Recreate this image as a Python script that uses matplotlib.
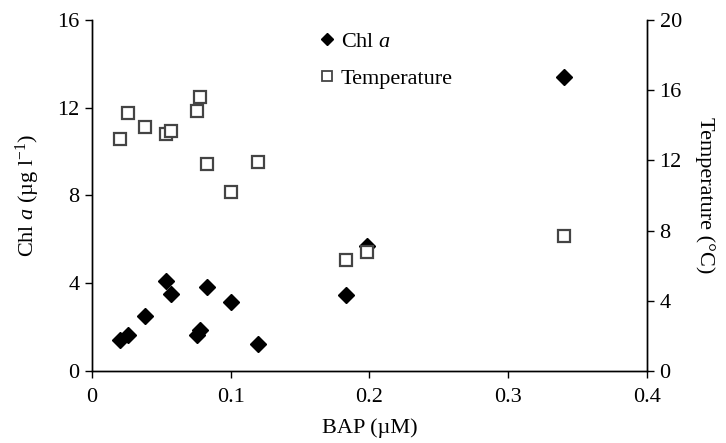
import matplotlib
matplotlib.use("Agg")
import matplotlib.pyplot as plt
from matplotlib.lines import Line2D

# BAP concentration (uM) for each sample
bap = [0.020, 0.026, 0.038, 0.053, 0.057, 0.076, 0.078, 0.083, 0.100, 0.120, 0.183, 0.198, 0.340]
# Chl a (ug l-1)
chl = [1.42, 1.64, 2.53, 4.11, 3.50, 1.64, 1.89, 3.85, 3.15, 1.22, 3.46, 5.68, 13.42]
# Temperature (deg C)
temp = [13.2, 14.7, 13.9, 13.5, 13.7, 14.8, 15.6, 11.8, 10.2, 11.9, 6.3, 6.8, 7.7]

xticks = [0, 0.1, 0.2, 0.3, 0.4]
xticklabels = ["0", "0.1", "0.2", "0.3", "0.4"]
chl_ticks = [0, 4, 8, 12, 16]
temp_ticks = [0, 4, 8, 12, 16, 20]

## --Set parameters for plotting
plt.rcParams["font.family"] = ["Liberation Serif", "DejaVu Serif"]
plt.rcParams["mathtext.fontset"] = "custom"
plt.rcParams["mathtext.rm"] = "Liberation Serif"
plt.rcParams["mathtext.it"] = "Liberation Serif:italic"
plt.rc('xtick', labelsize=16)
plt.rc('ytick', labelsize=16)

fig = plt.figure(figsize=(7.26, 4.43), dpi=100)
ax = fig.add_axes([0.1267, 0.1625, 0.7645, 0.7924])
ax2 = ax.twinx()

## --Draw points
ax.plot(bap, chl, linestyle="none", marker="D", markersize=8.5,
        color="black", zorder=3)
ax2.plot(bap, temp, linestyle="none", marker="s", markersize=8,
         markerfacecolor="white", markeredgecolor="#444444", markeredgewidth=1.6)

ax.set_xlim(0, 0.4)
ax.set_ylim(0, 16)
ax2.set_ylim(0, 20)
ax.set_xticks(xticks)
ax.set_xticklabels(xticklabels)
ax.set_yticks(chl_ticks)
ax2.set_yticks(temp_ticks)

for a in (ax, ax2):
    a.tick_params(direction="out", length=5, width=1, colors="black", pad=4)
    a.spines["top"].set_visible(False)
    for s in a.spines.values():
        s.set_linewidth(1)
ax.tick_params(axis="x", pad=7)

ax.set_xlabel("BAP (µM)", fontsize=16, labelpad=8)
ax.set_ylabel(r"Chl $a$ (µg l$^{-1}$)", fontsize=16, labelpad=11)
ax2.set_ylabel("Temperature (°C)", fontsize=16, rotation=-90, labelpad=24)

handles = [
    Line2D([], [], linestyle="none", marker="D", markersize=6.5, color="black"),
    Line2D([], [], linestyle="none", marker="s", markersize=6.5,
           markerfacecolor="white", markeredgecolor="#444444", markeredgewidth=1.3),
]
ax.legend(handles, [r"Chl $a$", "Temperature"], loc="upper left",
          bbox_to_anchor=(0.376, 1.025), frameon=False, fontsize=16,
          handlelength=0.6, handletextpad=0.3, labelspacing=0.75)

plt.savefig("out.png", dpi=100)
